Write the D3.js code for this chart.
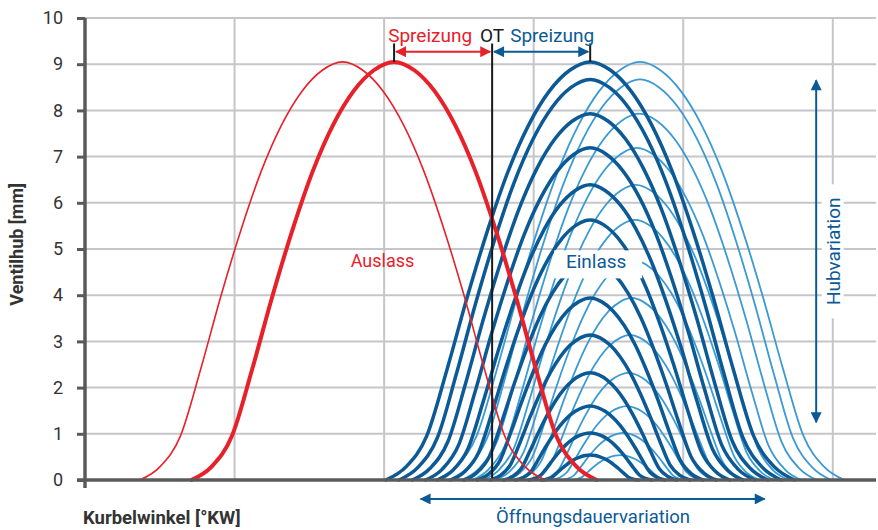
<!DOCTYPE html>
<html>
<head>
<meta charset="utf-8">
<script src="https://cdn.jsdelivr.net/npm/d3@7"></script>
<style>
  html, body { margin: 0; padding: 0; background: #fff; }
  #chart { width: 878px; height: 530px; }
  text { font-family: Roboto, "Liberation Sans", sans-serif; }
</style>
</head>
<body>
<div id="chart"></div>
<script>
// crank angle in °KW, OT = 360
const xDomain = [115, 591];
const xGrid = [205, 295, 385, 475, 565];
const yTicks = [0, 1, 2, 3, 4, 5, 6, 7, 8, 9, 10];
const OT = 360;

// half of a cam profile (0 = opening, 1 = max lift)
const profileT = [0, 0.1, 0.2, 0.3, 0.4, 0.5, 0.6, 0.7, 0.8, 0.9, 1];
const profileLift = [0, 0.032, 0.105, 0.265, 0.44, 0.6, 0.74, 0.85, 0.93, 0.98, 1];

// exhaust (Auslass): thin = early phasing, thick = reference
const exhaustOpen = [148, 179];
const exhaustClose = [392, 423];
const exhaustLift = [9.05, 9.05];
const exhaustWidth = [1.6, 4];

// intake (Einlass) lift variants, dark = centred at 419°, light = later phasing
const intakeLift = [9.05, 8.67, 7.93, 7.19, 6.39, 5.63, 4.76, 3.94, 3.14, 2.32, 1.6, 1.02, 0.54];
const intakeOpen = [296, 304, 312, 320, 327, 335, 343, 351, 359, 367, 374, 382, 390];
const intakeCenter = 419;
const intakeCenterLate = [449, 449, 448.5, 447, 446.5, 446, 445, 444, 443, 442, 441, 439, 437];

const RED = "#e8202a";
const DARK = "#0b5a96";
const LIGHT = "#3a9ad3";
const AXIS = "#5a5a5a";
const GRID = "#c6c6ca";

const width = 878;
const height = 530;
const margin = { top: 18, right: 2, bottom: 50, left: 85 };

const svg = d3
  .select("#chart")
  .append("svg")
  .attr("width", width)
  .attr("height", height);

const x = d3.scaleLinear().domain(xDomain).range([margin.left, width - margin.right]);
const y = d3.scaleLinear().domain([0, 10]).range([height - margin.bottom, margin.top]);

// arrow markers
const defs = svg.append("defs");
function marker(id, color) {
  defs
    .append("marker")
    .attr("id", id)
    .attr("viewBox", "0 0 10 10")
    .attr("refX", 9)
    .attr("refY", 5)
    .attr("markerUnits", "userSpaceOnUse")
    .attr("markerWidth", 12)
    .attr("markerHeight", 11)
    .attr("orient", "auto-start-reverse")
    .append("path")
    .attr("d", "M0,0 L10,5 L0,10 Z")
    .attr("fill", color);
}
marker("arrRed", RED);
marker("arrBlue", DARK);

// grid
const grid = svg.append("g");
grid
  .selectAll("line.h")
  .data(yTicks.slice(1))
  .join("line")
  .attr("x1", x(xDomain[0]))
  .attr("x2", x(xDomain[1]))
  .attr("y1", (d) => y(d))
  .attr("y2", (d) => y(d))
  .attr("stroke", GRID)
  .attr("stroke-width", 2);
grid
  .selectAll("line.v")
  .data(xGrid)
  .join("line")
  .attr("x1", (d) => x(d))
  .attr("x2", (d) => x(d))
  .attr("y1", y(10))
  .attr("y2", y(0))
  .attr("stroke", GRID)
  .attr("stroke-width", 2);

// build one lift curve from the profile
function liftPoints(open, close, lift) {
  const half = (close - open) / 2;
  const up = profileT.map((t, i) => [open + t * half, profileLift[i] * lift]);
  const down = profileT
    .slice(0, -1)
    .map((t, i) => [close - t * half, profileLift[i] * lift])
    .reverse();
  return up.concat(down);
}

const line = d3
  .line()
  .x((d) => x(d[0]))
  .y((d) => y(d[1]))
  .curve(d3.curveMonotoneX);

const curves = svg.append("g").attr("fill", "none").attr("stroke-linecap", "round");

// late intake (light)
curves
  .selectAll("path.late")
  .data(intakeLift)
  .join("path")
  .attr("class", "late")
  .attr("stroke", LIGHT)
  .attr("stroke-width", 1.8)
  .attr("d", (l, i) => {
    const half = intakeCenter - intakeOpen[i];
    const c = intakeCenterLate[i];
    return line(liftPoints(c - half, c + half, l));
  });

// intake (dark)
curves
  .selectAll("path.intake")
  .data(intakeLift)
  .join("path")
  .attr("class", "intake")
  .attr("stroke", DARK)
  .attr("stroke-width", 3.5)
  .attr("d", (l, i) => {
    const half = intakeCenter - intakeOpen[i];
    return line(liftPoints(intakeCenter - half, intakeCenter + half, l));
  });

// exhaust
curves
  .selectAll("path.exhaust")
  .data(exhaustLift)
  .join("path")
  .attr("class", "exhaust")
  .attr("stroke", RED)
  .attr("stroke-width", (d, i) => exhaustWidth[i])
  .attr("d", (l, i) => line(liftPoints(exhaustOpen[i], exhaustClose[i], l)));

// OT line and Spreizung marks
const exPeak = (exhaustOpen[1] + exhaustClose[1]) / 2;
const ann = svg.append("g");
ann
  .append("line")
  .attr("x1", x(OT))
  .attr("x2", x(OT))
  .attr("y1", y(9.45))
  .attr("y2", y(0))
  .attr("stroke", "#1a1a1a")
  .attr("stroke-width", 2);
[exPeak, intakeCenter].forEach((d) => {
  ann
    .append("line")
    .attr("x1", x(d))
    .attr("x2", x(d))
    .attr("y1", y(9.45))
    .attr("y2", y(9.05))
    .attr("stroke", "#1a1a1a")
    .attr("stroke-width", 2);
});
ann
  .append("line")
  .attr("x1", x(exPeak) + 2)
  .attr("x2", x(OT) - 2)
  .attr("y1", y(9.27))
  .attr("y2", y(9.27))
  .attr("stroke", RED)
  .attr("stroke-width", 2)
  .attr("marker-start", "url(#arrRed)")
  .attr("marker-end", "url(#arrRed)");
ann
  .append("line")
  .attr("x1", x(OT) + 2)
  .attr("x2", x(intakeCenter) - 2)
  .attr("y1", y(9.27))
  .attr("y2", y(9.27))
  .attr("stroke", DARK)
  .attr("stroke-width", 2)
  .attr("marker-start", "url(#arrBlue)")
  .attr("marker-end", "url(#arrBlue)");

ann
  .append("text")
  .attr("x", x(OT) - 20)
  .attr("y", y(9.48))
  .attr("text-anchor", "end")
  .attr("font-size", 19)
  .attr("fill", RED)
  .text("Spreizung");
ann
  .append("text")
  .attr("x", x(OT))
  .attr("y", y(9.48))
  .attr("text-anchor", "middle")
  .attr("font-size", 19)
  .attr("fill", "#1a1a1a")
  .text("OT");
ann
  .append("text")
  .attr("x", x(OT) + 18)
  .attr("y", y(9.48))
  .attr("font-size", 19)
  .attr("fill", DARK)
  .text("Spreizung");

// curve labels
ann
  .append("text")
  .attr("x", x(OT - 66))
  .attr("y", y(4.6))
  .attr("text-anchor", "middle")
  .attr("font-size", 18)
  .attr("fill", RED)
  .text("Auslass");
ann
  .append("rect")
  .attr("x", x(intakeCenter) - 36)
  .attr("y", y(4.97))
  .attr("width", 88)
  .attr("height", 28)
  .attr("fill", "#fff");
ann
  .append("text")
  .attr("x", x(intakeCenter) + 6)
  .attr("y", y(4.58))
  .attr("text-anchor", "middle")
  .attr("font-size", 19)
  .attr("fill", DARK)
  .text("Einlass");

// Hubvariation
ann
  .append("line")
  .attr("x1", x(555))
  .attr("x2", x(555))
  .attr("y1", y(1.25))
  .attr("y2", y(8.65))
  .attr("stroke", DARK)
  .attr("stroke-width", 2)
  .attr("marker-start", "url(#arrBlue)")
  .attr("marker-end", "url(#arrBlue)");
ann
  .append("rect")
  .attr("x", x(565) - 11)
  .attr("y", y(6.4))
  .attr("width", 22)
  .attr("height", y(3.5) - y(6.4))
  .attr("fill", "#fff");
ann
  .append("text")
  .attr("transform", `translate(${x(565) + 7},${y(4.95)}) rotate(-90)`)
  .attr("text-anchor", "middle")
  .attr("font-size", 19)
  .attr("fill", DARK)
  .text("Hubvariation");

// Öffnungsdauervariation
ann
  .append("line")
  .attr("x1", x(317))
  .attr("x2", x(524))
  .attr("y1", y(-0.41))
  .attr("y2", y(-0.41))
  .attr("stroke", DARK)
  .attr("stroke-width", 2)
  .attr("marker-start", "url(#arrBlue)")
  .attr("marker-end", "url(#arrBlue)");
ann
  .append("text")
  .attr("x", x(420.7))
  .attr("y", y(-0.92))
  .attr("text-anchor", "middle")
  .attr("font-size", 18.5)
  .attr("fill", DARK)
  .text("Öffnungsdauervariation");

// axes
const axisG = svg.append("g");
axisG
  .append("line")
  .attr("x1", x(xDomain[0]) - 8)
  .attr("x2", x(xDomain[1]))
  .attr("y1", y(0))
  .attr("y2", y(0))
  .attr("stroke", AXIS)
  .attr("stroke-width", 3.5);
axisG
  .append("line")
  .attr("x1", x(xDomain[0]))
  .attr("x2", x(xDomain[0]))
  .attr("y1", y(10))
  .attr("y2", y(0) + 8)
  .attr("stroke", AXIS)
  .attr("stroke-width", 3.5);

const yAxis = svg
  .append("g")
  .attr("transform", `translate(${margin.left},0)`)
  .call(d3.axisLeft(y).tickValues(yTicks).tickSize(8).tickPadding(14).tickFormat(d3.format("d")));
yAxis.select(".domain").remove();
yAxis.selectAll("line").attr("stroke", AXIS).attr("stroke-width", 3);
yAxis
  .selectAll("text")
  .attr("font-size", 18)
  .attr("fill", "#333")
  .style("font-family", "Roboto, sans-serif");

svg
  .append("text")
  .attr("transform", `translate(23,${y(5.1)}) rotate(-90)`)
  .attr("text-anchor", "middle")
  .attr("font-size", 18)
  .attr("font-weight", "bold")
  .attr("fill", "#333")
  .text("Ventilhub [mm]");

svg
  .append("text")
  .attr("x", 83)
  .attr("y", 524)
  .attr("font-size", 18.5)
  .attr("font-weight", "bold")
  .attr("fill", "#333")
  .text("Kurbelwinkel [°KW]");
</script>
</body>
</html>
